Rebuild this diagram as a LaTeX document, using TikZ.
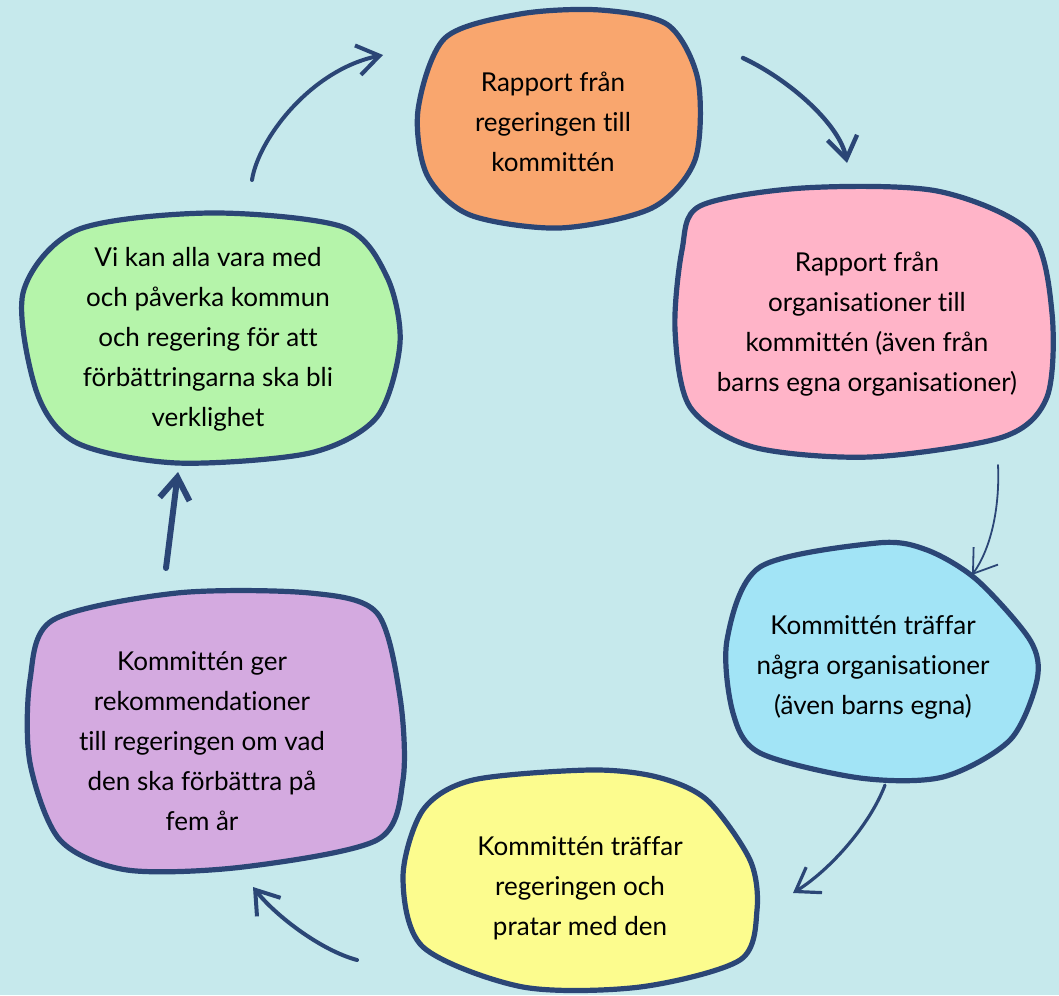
\documentclass[tikz,border=0pt]{standalone}
\usepackage{fontspec}
\setmainfont{Lato}[RawFeature={-liga;-clig;-calt;-dlig}]
\usetikzlibrary{arrows.meta,calc}
\definecolor{bakgrund}{HTML}{C6E9EC}
\definecolor{kant}{HTML}{2B4676}
\definecolor{orangefyll}{HTML}{F9A66E}
\definecolor{rosafyll}{HTML}{FFB4C8}
\definecolor{blafyll}{HTML}{A2E4F6}
\definecolor{gulfyll}{HTML}{FCFC8E}
\definecolor{lilafyll}{HTML}{D4AAE0}
\definecolor{gronfyll}{HTML}{B5F4AA}
\begin{document}
\begin{tikzpicture}[x=0.5pt,y=-0.5pt,
    blob/.style={draw=kant,line width=2.6pt},
    txt/.style={align=center,font=\fontsize{13}{20}\selectfont},
    pil/.style={draw=kant,line width=2pt,line cap=round,
      -{Straight Barb[length=11pt,width=15pt]}}]
    \fill[bakgrund] (0,0) rectangle (1059,995);
    \useasboundingbox (0,0) rectangle (1059,995);
    % blobs
    \filldraw[blob,fill=orangefyll] plot[smooth cycle] coordinates {(445,38) (520,14) (600,10) (668,25) (698,80) (695,160) (652,208) (560,228) (470,215) (427,175) (418,110)};
    \filldraw[blob,fill=rosafyll] plot[smooth cycle] coordinates {(700,206) (803,188) (937,191) (1030,232) (1052,313) (1047,397) (1003,437) (870,457) (753,447) (690,407) (675,330) (682,250)};
    \filldraw[blob,fill=blafyll] plot[smooth cycle] coordinates {(760,567) (877,543) (927,550) (977,580) (1030,640) (1037,680) (1010,740) (943,777) (860,778) (760,753) (733,713) (727,640)};
    \filldraw[blob,fill=gulfyll] plot[smooth cycle] coordinates {(473,780) (590,770) (657,777) (707,800) (750,860) (757,910) (740,960) (640,987) (523,987) (423,947) (403,877) (423,810)};
    \filldraw[blob,fill=lilafyll] plot[smooth cycle] coordinates {(53,620) (177,593) (310,593) (377,613) (400,697) (403,780) (377,840) (243,867) (127,870) (60,840) (30,763) (30,680)};
    \filldraw[blob,fill=gronfyll] plot[smooth cycle] coordinates {(77,230) (210,213) (343,227) (387,277) (400,343) (377,417) (310,453) (177,463) (77,443) (37,393) (23,293)};
    % texts
    \node[txt] (rapportreg) at (553,122) {Rapport från\\regeringen till\\kommittén};
    \node[txt] (rapportorg) at (867,324) {Rapport från\\organisationer till\\kommittén (även från\\barns egna organisationer)};
    \node[txt] (traffarorg) at (873,667) {Kommittén träffar\\några organisationer\\(även barns egna)};
    \node[txt] (traffarreg) at (580,888) {Kommittén träffar\\regeringen och\\pratar med den};
    \node[txt] (rekommend) at (202,741) {Kommittén ger\\rekommendationer\\till regeringen om vad\\den ska förbättra på\\fem år};
    \node[txt] (paverka) at (208,339) {Vi kan alla vara med\\och påverka kommun\\och regering för att\\förbättringarna ska bli\\verklighet};
    % arrows
    \draw[pil] ($(paverka)+(44,-159)$) .. controls (258,140) and (310,70) .. ($(rapportreg)+(-170,-67)$);
    \draw[pil,line width=2.2pt] ($(rapportreg)+(190,-64)$) .. controls (790,80) and (840,125) .. ($(rapportorg)+(-20,-161)$);
    \draw[pil,line width=0.9pt] ($(rapportorg)+(131,141)$) .. controls (1000,510) and (990,550) .. ($(traffarorg)+(99,-92)$);
    \draw[pil,line width=1.6pt] ($(traffarorg)+(12,118)$) .. controls (870,825) and (830,870) .. ($(traffarreg)+(213,5)$);
    \draw[pil] ($(traffarreg)+(-223,72)$) .. controls (320,950) and (275,915) .. ($(rekommend)+(51,146)$);
    \draw[pil,line width=3pt] ($(rekommend)+(-36,-173)$) -- ($(paverka)+(-30,133)$);
\end{tikzpicture}
\end{document}
